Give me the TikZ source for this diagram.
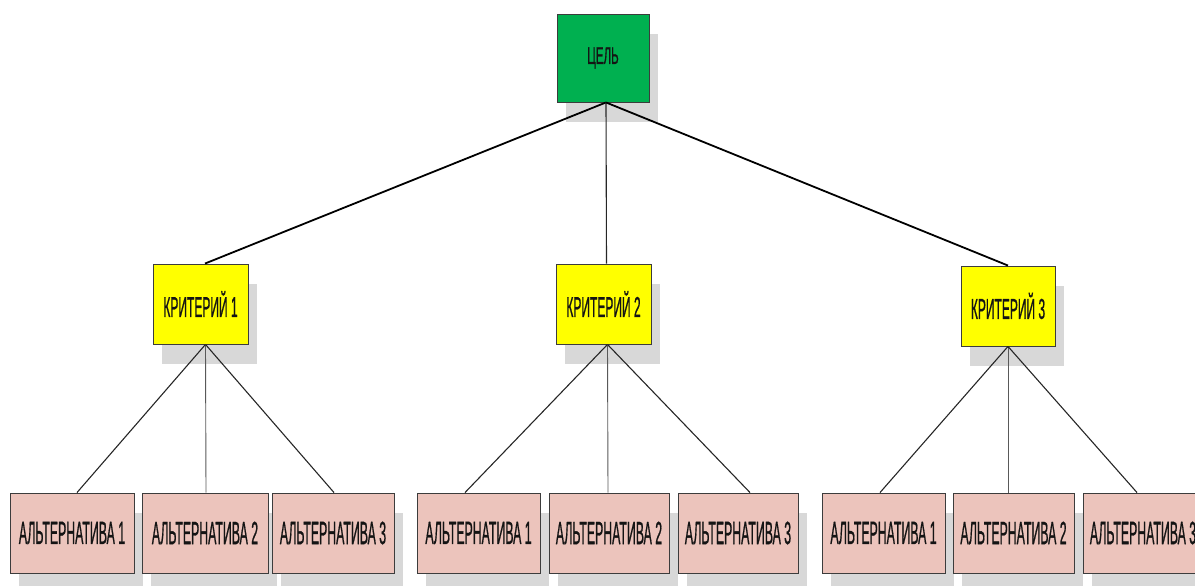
\documentclass[tikz,border=0pt]{standalone}
\usepackage{fontspec}
\setmainfont{Liberation Sans}
\newfontfamily\labfont[FakeBold=1.2]{Liberation Sans}
\usetikzlibrary{shadows}
\definecolor{goalgreen}{RGB}{0,176,80}
\definecolor{crityellow}{RGB}{255,255,0}
\definecolor{altpink}{RGB}{236,196,188}
\definecolor{shgray}{RGB}{216,216,216}
\definecolor{edgegray}{RGB}{60,60,60}
\definecolor{txtcol}{RGB}{20,20,20}
\newcommand\narrowtxt[3]{\scalebox{#1}[1.15]{\labfont\fontsize{#2}{#2}\selectfont\color{txtcol}#3}}
\tikzset{
  boxbase/.style={draw=edgegray, line width=0.9pt, inner sep=0pt, rectangle,
    drop shadow={shadow xshift=9pt, shadow yshift=-20pt, fill=shgray, opacity=1}},
  goalbox/.style={boxbase, fill=goalgreen, minimum width=92pt, minimum height=88pt},
  critbox/.style={boxbase, fill=crityellow, minimum width=95pt, minimum height=80pt},
  altbox/.style={boxbase, fill=altpink, minimum height=80pt},
  thickedge/.style={line width=1.8pt, black},
  midedge/.style={line width=1.1pt, black!85},
  thinedge/.style={line width=1.1pt, black!85},
  vedge/.style={line width=0.9pt, black!65},
}
\begin{document}
\begin{tikzpicture}[x=1pt,y=-1pt]
\useasboundingbox (0,0) rectangle (1195,586);
\clip (0,0) rectangle (1195,586);
% nodes
\node[goalbox] (g) at (603,58) {\narrowtxt{0.55}{21}{ЦЕЛЬ}};
\node[critbox] (k1) at (200.5,304) {\narrowtxt{0.48}{25}{КРИТЕРИЙ 1}};
\node[critbox] (k2) at (603.5,304) {\narrowtxt{0.48}{25}{КРИТЕРИЙ 2}};
\node[critbox, minimum width=94pt] (k3) at (1008,306) {\narrowtxt{0.48}{25}{КРИТЕРИЙ 3}};
\node[altbox, minimum width=124pt] (a11) at (72,533) {\narrowtxt{0.44}{28}{АЛЬТЕРНАТИВА 1}};
\node[altbox, minimum width=126pt] (a12) at (205,533) {\narrowtxt{0.44}{28}{АЛЬТЕРНАТИВА 2}};
\node[altbox, minimum width=122pt] (a13) at (333,533) {\narrowtxt{0.44}{28}{АЛЬТЕРНАТИВА 3}};
\node[altbox, minimum width=123pt] (a21) at (478.5,533) {\narrowtxt{0.44}{28}{АЛЬТЕРНАТИВА 1}};
\node[altbox, minimum width=120pt] (a22) at (609,533) {\narrowtxt{0.44}{28}{АЛЬТЕРНАТИВА 2}};
\node[altbox, minimum width=120pt] (a23) at (738,533) {\narrowtxt{0.44}{28}{АЛЬТЕРНАТИВА 3}};
\node[altbox, minimum width=123pt] (a31) at (883.5,533) {\narrowtxt{0.44}{28}{АЛЬТЕРНАТИВА 1}};
\node[altbox, minimum width=121pt] (a32) at (1013.5,533) {\narrowtxt{0.44}{28}{АЛЬТЕРНАТИВА 2}};
\node[altbox, minimum width=120pt] (a33) at (1143,533) {\narrowtxt{0.44}{28}{АЛЬТЕРНАТИВА 3}};
% connectors goal -> criteria
\coordinate (gs) at ([xshift=3pt]g.south);
\draw[thickedge] (gs) -- ([xshift=4.5pt]k1.north);
\draw[midedge] (gs) -- ([xshift=3pt]k2.north);
\draw[thickedge] (gs) -- (k3.north);
% criteria -> alternatives
\coordinate (k1s) at ([xshift=5pt]k1.south);
\draw[thinedge] (k1s) -- ([xshift=5pt]a11.north);
\draw[vedge] (k1s) -- ([xshift=1pt]a12.north);
\draw[thinedge] (k1s) -- ([xshift=1pt]a13.north);
\coordinate (k2s) at ([xshift=4pt]k2.south);
\draw[thinedge] (k2s) -- ([xshift=-13.5pt]a21.north);
\draw[vedge] (k2s) -- ([xshift=-1pt]a22.north);
\draw[thinedge] (k2s) -- ([xshift=12pt]a23.north);
\coordinate (k3s) at (k3.south);
\draw[thinedge] (k3s) -- ([xshift=-3.5pt]a31.north);
\draw[vedge] (k3s) -- ([xshift=-5.5pt]a32.north);
\draw[thinedge] (k3s) -- ([xshift=-6pt]a33.north);
\end{tikzpicture}
\end{document}
